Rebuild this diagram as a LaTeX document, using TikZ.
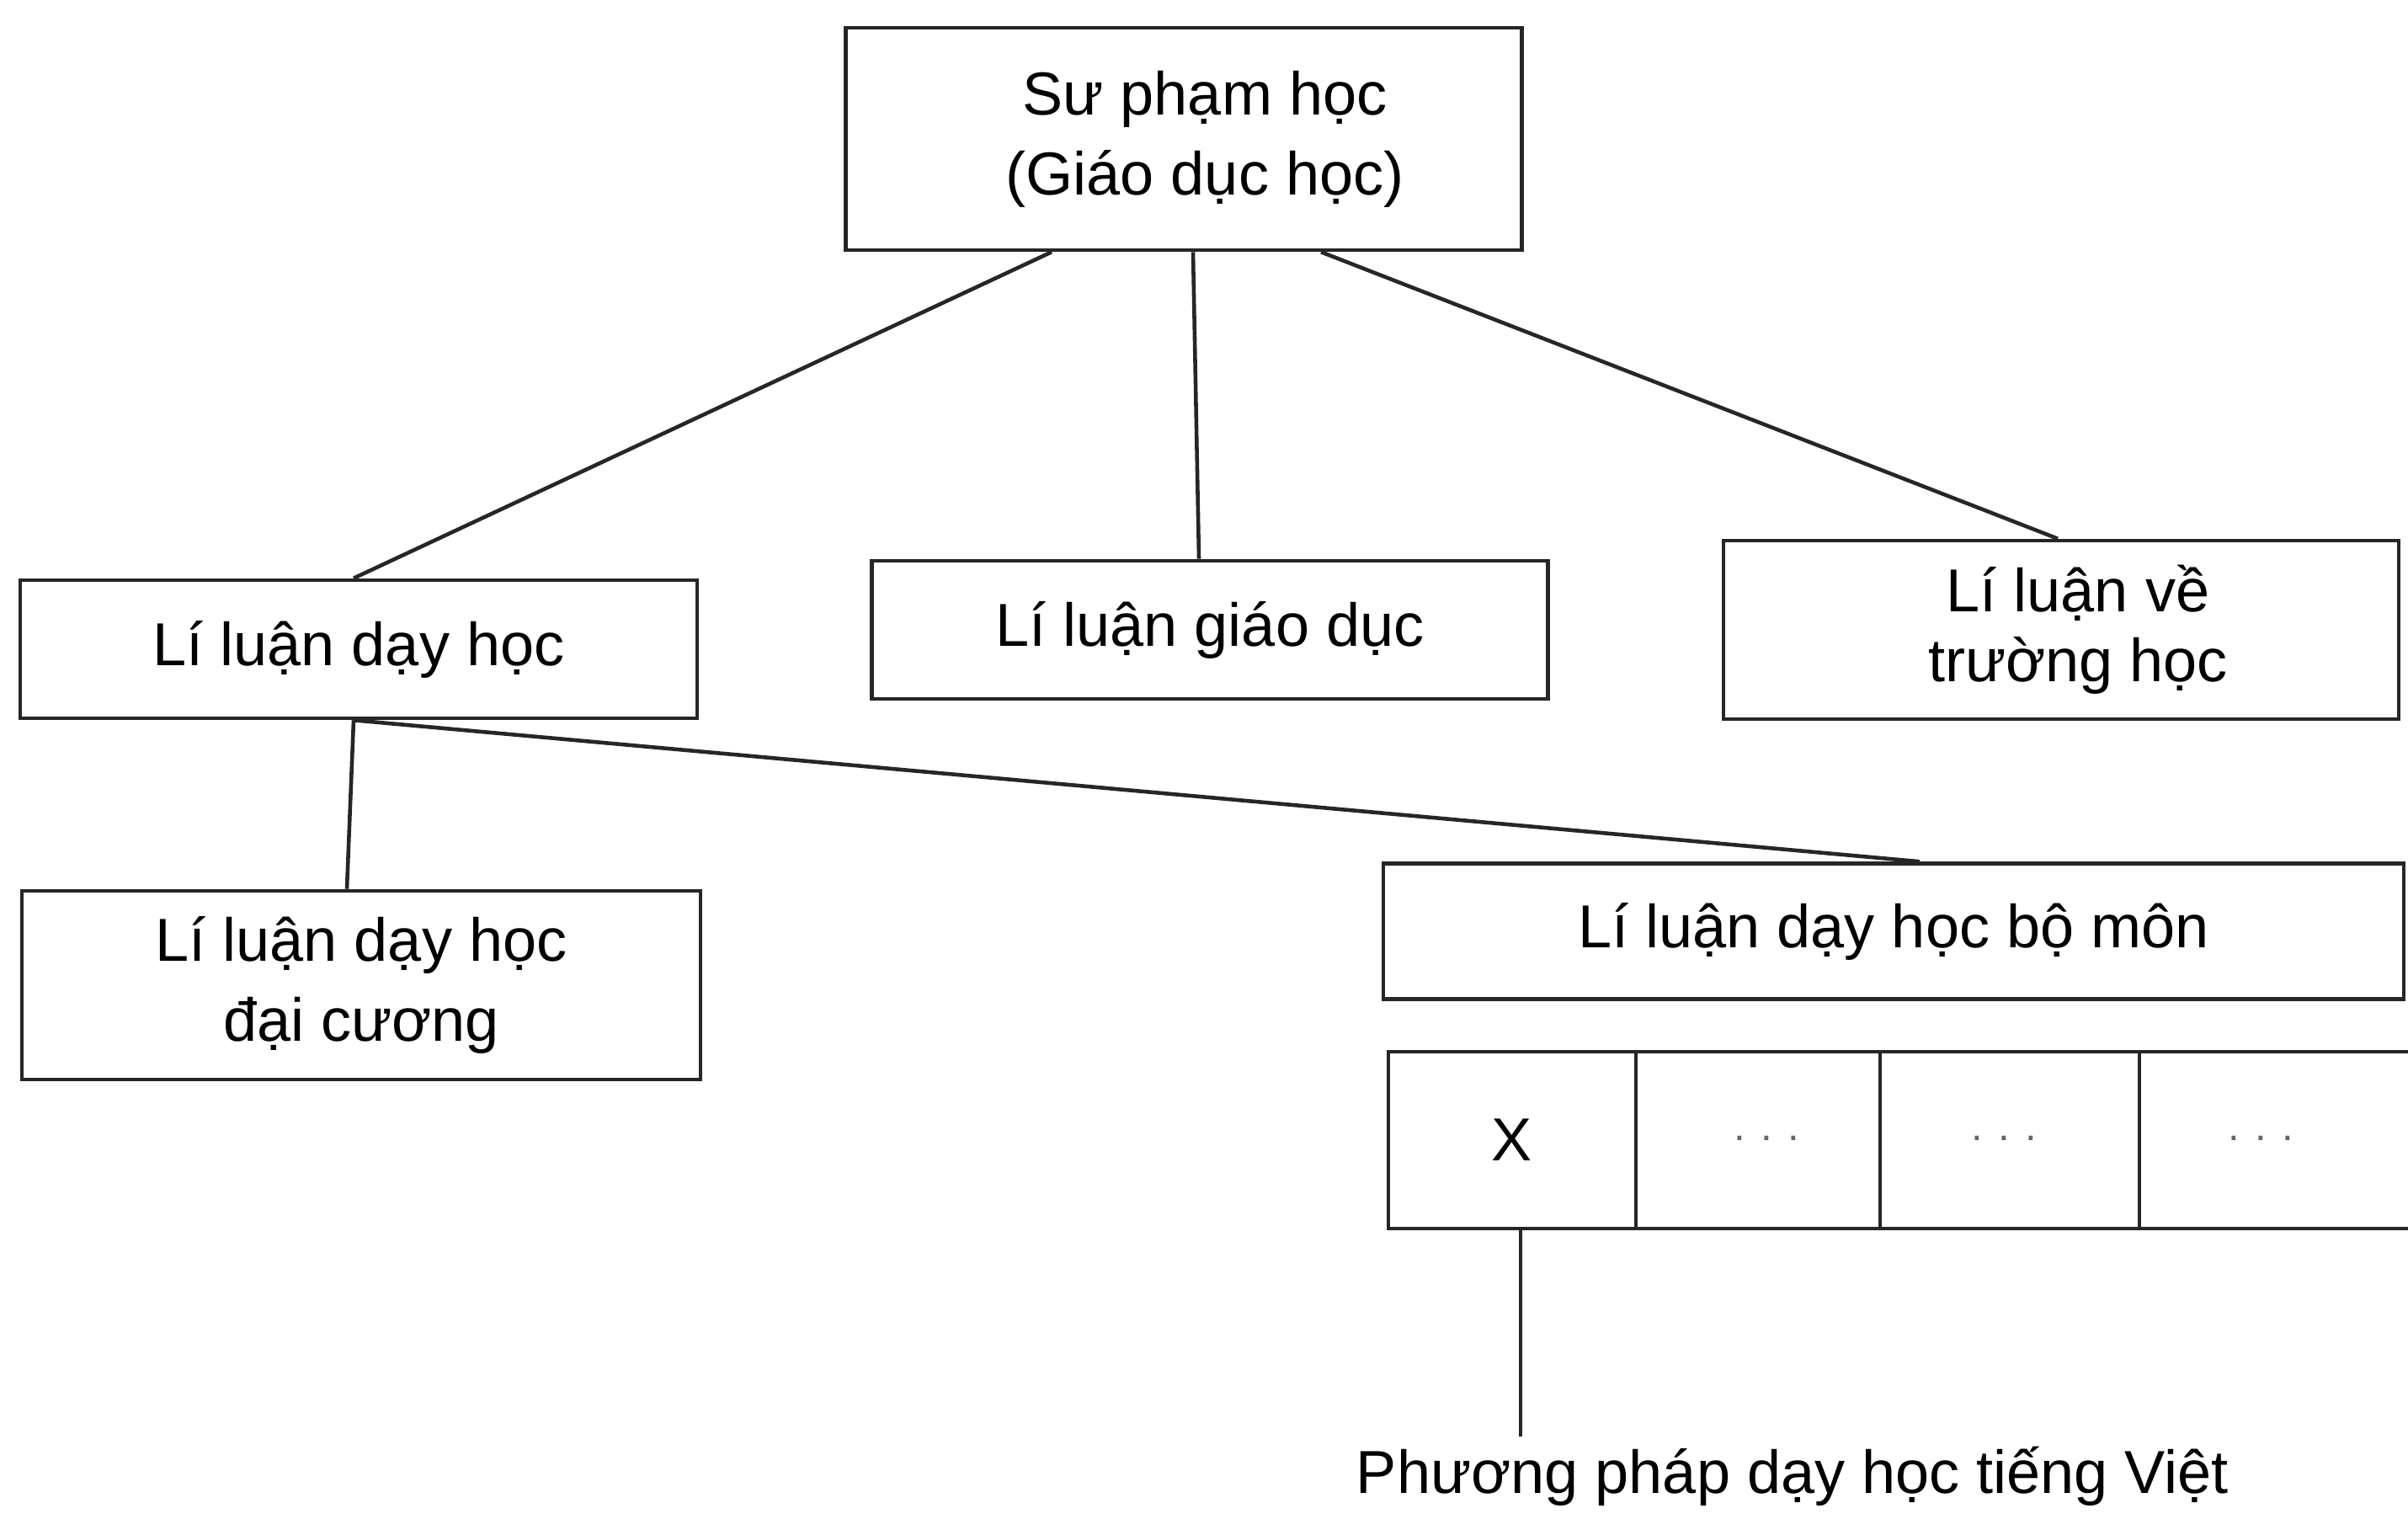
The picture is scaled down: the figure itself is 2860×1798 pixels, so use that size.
\documentclass[tikz,border=0pt]{standalone}
\usepackage{fontspec}
\setmainfont{Liberation Sans}
\begin{document}
\begin{tikzpicture}[x=0.01cm,y=-0.01cm,
  box/.style={draw=black!85, line width=1.3pt, rectangle, inner sep=0pt, align=center,
    font=\fontsize{20.5pt}{27pt}\selectfont},
  cell/.style={draw=black!85, line width=1.3pt, rectangle, inner sep=0pt, outer sep=0pt,
    minimum height=210*0.01cm},
  conn/.style={draw=black!85, line width=1.3pt},
  dots/.style={font=\fontsize{14pt}{16pt}\selectfont, text=black!60}]
\useasboundingbox[fill=white] (0,0) rectangle (2860,1798);

% top node
\node[box, minimum width=803*0.01cm, minimum height=264*0.01cm] (top) at (1406,165)
  {\hspace*{0.5cm}Sư phạm học\\\hspace*{0.5cm}(Giáo dục học)};

% second level
\node[box, minimum width=804*0.01cm, minimum height=164*0.01cm] (ld) at (426,771) {Lí luận dạy học};
\node[box, minimum width=803*0.01cm, minimum height=164*0.01cm] (lg) at (1437,748) {Lí luận giáo dục};
\node[box, minimum width=802*0.01cm, minimum height=212*0.01cm,
  font=\fontsize{20.5pt}{23.5pt}\selectfont] (lt) at (2448,748) {\hspace*{0.4cm}Lí luận về\\\hspace*{0.4cm}trường học};

% third level
\node[box, minimum width=806*0.01cm, minimum height=224*0.01cm] (dc) at (429,1170) {Lí luận dạy học\\đại cương};
\node[box, minimum width=1212*0.01cm, minimum height=161*0.01cm] (bm) at (2249,1106) {Lí luận dạy học bộ môn};

% row of cells
\node[cell, minimum width=294*0.01cm] (c1) at (1796,1354) {\fontsize{20.5pt}{24pt}\selectfont X};
\node[cell, minimum width=290*0.01cm] (c2) at (2088,1354) {};
\node[cell, minimum width=308*0.01cm] (c3) at (2387,1354) {};
\node[dots] (d2) at (2098,1352) {. . .};
\node[dots] (d3) at (2380,1352) {. . .};
\node[dots] (d4) at (2685,1352) {. . .};
\coordinate (rowtopend) at (2900,1249);
\coordinate (rowbotend) at (2900,1459);
\draw[conn] (c3.north east) -- (rowtopend);
\draw[conn] (c3.south east) -- (rowbotend);

% bottom label
\node[font=\fontsize{20.5pt}{24pt}\selectfont, anchor=north] (pp) at (2129,1706) {Phương pháp dạy học tiếng Việt};

% connectors
\draw[conn] ([xshift=-157*0.01cm]top.south) -- ([xshift=-6*0.01cm]ld.north);
\draw[conn] ([xshift=11*0.01cm]top.south) -- ([xshift=-13*0.01cm]lg.north);
\draw[conn] ([xshift=163*0.01cm]top.south) -- ([xshift=-4*0.01cm]lt.north);
\draw[conn] ([xshift=-6*0.01cm]ld.south) -- ([xshift=-17*0.01cm]dc.north);
\draw[conn] ([xshift=-6*0.01cm]ld.south) -- ([xshift=31*0.01cm]bm.north);
\draw[conn] ([xshift=10*0.01cm]c1.south) -- ([xshift=10*0.01cm]c1.south |- pp.north);
\end{tikzpicture}
\end{document}
